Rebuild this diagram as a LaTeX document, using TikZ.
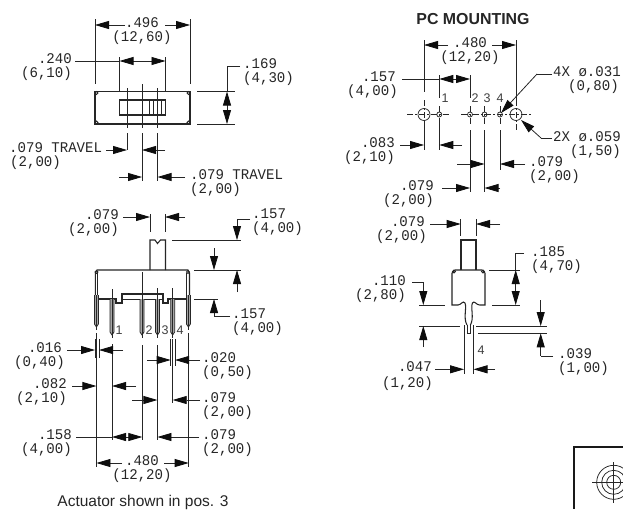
\documentclass[tikz,border=0pt]{standalone}
\usepackage{fontspec}
\setmainfont{Liberation Sans}
\newfontfamily\cadfont[FakeStretch=0.95]{Liberation Mono}
\usetikzlibrary{arrows.meta}
\tikzset{
  cad/.style={line width=0.75pt,draw=black!85},
  thick cad/.style={line width=1.05pt,draw=black!85},
  ext/.style={line width=0.8pt,draw=black!85},
  dimarrow/.style={line width=0.8pt,draw=black!85,-{Triangle[length=14pt,width=8pt,black!95]}},
  centre/.style={line width=0.7pt,draw=black!85,dash pattern=on 6pt off 2pt on 2pt off 2pt},
  dimtext/.style={font=\cadfont\fontsize{14.8}{15}\selectfont,inner sep=0pt,text=black!85},
  pinno/.style={font=\fontsize{12.5}{13}\selectfont,inner sep=0pt,text=black!75},
}
\newcommand{\tR}[3]{\node[dimtext,anchor=mid east] at (#1,#2) {#3};}
\newcommand{\tL}[3]{\node[dimtext,anchor=mid west] at (#1,#2) {#3};}
\newcommand{\tC}[3]{\node[dimtext,anchor=mid] at (#1,#2) {#3};}
\newcommand{\ar}[4]{\draw[dimarrow] (#1,#2) -- (#3,#4);}
\newcommand{\vl}[3]{\draw[ext] (#1,#2) -- (#1,#3);}
\newcommand{\hl}[3]{\draw[ext] (#2,#1) -- (#3,#1);}
\newcommand{\pinshape}[3]{\draw[cad,fill=black!35] (#1-2,#2) -- (#1-2,#3-3) -- (#1,#3) -- (#1+2,#3-3) -- (#1+2,#2);}
\newcommand{\hole}[2]{\draw[cad] (#1,114.5) circle (#2);}
\begin{document}
\begin{tikzpicture}[x=1pt,y=-1pt]
\useasboundingbox (0,0) rectangle (623,509);
\fill[white] (0,0) rectangle (623,509);
%% ---- top-left view
\draw[thick cad] (95,91.5) rectangle (190,124);
\foreach \cx/\cy in {96.5/93,188.5/93,96.5/122.5,188.5/122.5}{\draw[cad] (\cx,\cy) circle (1.5);}
\draw[thick cad] (119.5,100) rectangle (165.5,115);
\foreach \cx in {149.5,153,161}{\vl{\cx}{100}{115}}
\vl{127}{88}{128}\vl{142}{84}{128}\vl{157.5}{88}{128}
\vl{127}{133}{150}\vl{142}{133}{181}\vl{157.5}{133}{181}
\vl{95}{19}{84}\vl{190}{19}{84}
\ar{125}{25}{95}{25}\ar{165}{25}{190}{25}
\tC{142}{25}{.496}\tC{142}{38.5}{(12,60)}
\draw[ext] (75,61) -- (119.5,61);
\vl{119.5}{57}{91}\vl{165.5}{57}{91}
\ar{142}{61}{119.5}{61}\ar{142}{61}{165.5}{61}
\tR{72}{61}{.240}\tR{72}{74.5}{(6,10)}
\hl{91.5}{197}{235}\hl{124}{197}{235}
\draw[ext] (240,66) -- (227,66) -- (227,91.5);
\ar{227}{108}{227}{91.5}\ar{227}{108}{227}{124}
\tL{243}{66}{.169}\tL{243}{79.5}{(4,30)}
\ar{106}{150}{127}{150}\ar{165}{150}{142}{150}
\tL{9}{150}{.079 TRAVEL}\tL{10}{163.5}{(2,00)}
\ar{119}{177}{142}{177}\ar{185}{177}{157.5}{177}
\tL{190}{177}{.079 TRAVEL}\tL{190}{190.5}{(2,00)}
%% ---- lower-left view
\vl{150}{214}{232}\vl{165}{214}{232}
\ar{123}{217}{150}{217}\ar{185}{217}{165}{217}
\tR{119}{217}{.079}\tR{119}{230.5}{(2,00)}
\draw[thick cad] (150,270) -- (150,240) -- (155,240) -- (157.5,243.5) -- (160.5,240) -- (165.5,240) -- (165.5,270);
\draw[thick cad] (95.3,295) -- (95.3,273) -- (97,270) -- (188,270) -- (189.5,273) -- (189.5,295);
\draw[cad] (97.6,295) -- (97.6,273); \draw[cad] (186.6,295) -- (186.6,273);
\draw[cad] (96.5,272) circle (1.5); \draw[cad] (188,272) circle (1.5);
\draw[thick cad] (95,299) -- (116,299) -- (116,303) -- (122,303) -- (122,294) -- (163,294) -- (163,303) -- (168,303) -- (168,299) -- (190,299);
\draw[cad] (122,299) -- (163,299);
\pinshape{112}{299}{335}\pinshape{142}{299}{335}\pinshape{157.5}{299}{335}\pinshape{172.7}{299}{335}
\pinshape{96.4}{295}{327}\pinshape{188.4}{295}{327}
\vl{112}{289}{338}\vl{142}{272}{338}\vl{157.5}{288}{338}\vl{172.7}{288}{338}
\vl{96.4}{295}{330}\vl{188.4}{295}{330}
\node[pinno] at (119,330) {1};\node[pinno] at (149,330) {2};\node[pinno] at (165,330) {3};\node[pinno] at (180,330) {4};
\hl{240}{172}{241}\hl{270}{194}{241}\hl{299}{194}{218}
\ar{214}{248}{214}{270}\ar{237}{292}{237}{270}
\draw[ext] (250,219) -- (237,219); \ar{237}{219}{237}{240}
\tL{252}{216}{.157}\tL{252}{230}{(4,00)}
\draw[ext] (230,316) -- (214,316); \ar{214}{316}{214}{299}
\tL{232}{316}{.157}\tL{232}{330}{(4,00)}
%% lower dimension lines
\vl{96.4}{333}{467}\vl{188.7}{333}{467}\vl{112}{344}{440}\vl{142.3}{345}{440}\vl{157.4}{345}{440}\vl{172.7}{339}{403}
\vl{99}{339}{358}\vl{95}{339}{358}\vl{175}{339}{366}\vl{170.7}{339}{366}
\ar{67}{350}{95}{350}\ar{123}{350}{99}{350}
\tR{62}{350}{.016}\tR{65}{363.5}{(0,40)}
\ar{147}{360}{170.7}{360}\ar{200}{360}{175}{360}
\tL{202}{360}{.020}\tL{202}{373.5}{(0,50)}
\ar{72}{386}{96.4}{386}\ar{136}{386}{112}{386}
\tR{67}{386}{.082}\tR{67}{399.5}{(2,10)}
\ar{132}{400}{157.4}{400}\ar{200}{400}{172.7}{400}
\tL{202}{400}{.079}\tL{202}{413.5}{(2,00)}
\draw[ext] (76,437) -- (112,437);
\ar{127}{437}{112}{437}\ar{127}{437}{142.3}{437}
\tR{72}{437}{.158}\tR{72}{450.5}{(4,00)}
\ar{199}{437}{157.4}{437}
\tL{202}{437}{.079}\tL{202}{450.5}{(2,00)}
\ar{122}{463}{96.4}{463}\ar{164}{463}{188.7}{463}
\tC{142}{463}{.480}\tC{142}{476.5}{(12,20)}
\node[inner sep=0pt,font=\fontsize{15.5}{16}\selectfont,text=black!85] at (143,502) {Actuator shown in pos. 3};
%% ---- PC mounting
\node[inner sep=0pt,font=\bfseries\fontsize{15.9}{16}\selectfont,text=black!85] at (473,19) {PC MOUNTING};
\vl{424}{40}{92}\vl{516}{40}{101}
\ar{448}{45}{424}{45}\ar{492}{45}{516}{45}
\tC{470}{45}{.480}\tC{470}{58.5}{(12,20)}
\draw[ext] (402,79) -- (439.3,79);
\vl{439.3}{75}{98}\vl{470}{75}{98}
\ar{455}{79}{439.3}{79}\ar{455}{79}{470}{79}
\tR{396}{79}{.157}\tR{398}{93}{(4,00)}
\draw[centre] (407,114.5) -- (449,114.5);
\draw[centre] (461,114.5) -- (532,114.5);
\foreach \cx in {424,516}{\draw[centre] (\cx,100) -- (\cx,130);\hole{\cx}{6}}
\foreach \cx in {439.3,470,484.5,500}{\draw[centre] (\cx,106) -- (\cx,124);\hole{\cx}{2.5}}
\node[pinno] at (445,98) {1};\node[pinno] at (475,98) {2};\node[pinno] at (487,98) {3};\node[pinno] at (500,98) {4};
\vl{424}{122}{150}\vl{439.3}{122}{150}\vl{470}{130}{192}\vl{484.5}{130}{192}\vl{500}{130}{170}
\ar{400}{145}{424}{145}\ar{462}{145}{439.3}{145}
\tR{395}{145}{.083}\tR{395}{159}{(2,10)}
\ar{457}{164}{484.5}{164}\ar{525}{164}{500}{164}
\tL{529}{164}{.079}\tL{529}{178}{(2,00)}
\ar{442}{188}{470}{188}\ar{500}{188}{484.5}{188}
\tR{434}{188}{.079}\tR{434}{201.5}{(2,00)}
\draw[ext] (552,74) -- (537,74); \ar{537}{74}{501}{113}
\tL{553}{74}{4X ø.031}\tR{619}{87.5}{(0,80)}
\draw[ext] (552,138) -- (541,138); \ar{541}{138}{521}{120}
\tL{553}{139}{2X ø.059}\tR{621}{152.5}{(1,50)}
%% ---- lower-right view
\vl{460.7}{219}{236}\vl{476}{219}{236}
\ar{430}{224}{460.7}{224}\ar{500}{224}{476}{224}
\tR{425}{224}{.079}\tR{427}{238}{(2,00)}
\draw[thick cad] (461,270) -- (461,240) -- (476,240) -- (476,270);
\draw[thick cad] (458,305) -- (452,305) -- (452,273) -- (455,270) -- (482,270) -- (485,273) -- (485,305) -- (479.4,305);
\draw[cad] (454,271.5) circle (1.5); \draw[cad] (483,271.5) circle (1.5);
\draw[thick cad] (458,305) .. controls (461,305) and (463,300) .. (465,303) .. controls (467,308) and (463,318) .. (467,325);
\draw[thick cad] (479.4,305) .. controls (476.4,305) and (474.4,300) .. (472.4,303) .. controls (470.4,308) and (474.4,318) .. (470.4,325);
\draw[cad] (467,325) -- (467,333.5) -- (470.4,333.5) -- (470.4,325);
\vl{464}{325}{374}\vl{473.5}{325}{374}
\hl{270}{489}{520}\hl{305}{492}{520}
\draw[ext] (524,253) -- (515.7,253) -- (515.7,270);
\ar{515.7}{288}{515.7}{270}\ar{515.7}{288}{515.7}{305}
\tL{531}{254}{.185}\tL{531}{267.5}{(4,70)}
\hl{305}{419}{445}
\draw[ext] (412,282) -- (423.3,282); \ar{423.3}{282}{423.3}{305}
\tR{406}{283}{.110}\tR{406}{296.5}{(2,80)}
\hl{326}{419}{460}\hl{326}{476}{547}\hl{333.3}{478}{547}
\ar{423.3}{347}{423.3}{326}
\ar{540.7}{300}{540.7}{326}
\draw[ext] (553,356) -- (540.7,356); \ar{540.7}{356}{540.7}{333.3}
\tL{558}{356}{.039}\tL{558}{370}{(1,00)}
\node[pinno] at (481,350) {4};
\ar{435}{369.3}{464}{369.3}\ar{495}{369.3}{473.5}{369.3}
\tR{432}{369.3}{.047}\tR{433}{385}{(1,20)}
%% ---- corner symbol
\draw[line width=2pt,draw=black!90] (623,447) -- (574,447) -- (574,509);
\draw[cad] (613.7,482.3) circle (17) circle (12) circle (7);
\draw[cad] (592,482.3) -- (623,482.3); \draw[cad] (613.7,462) -- (613.7,503);
\end{tikzpicture}
\end{document}
